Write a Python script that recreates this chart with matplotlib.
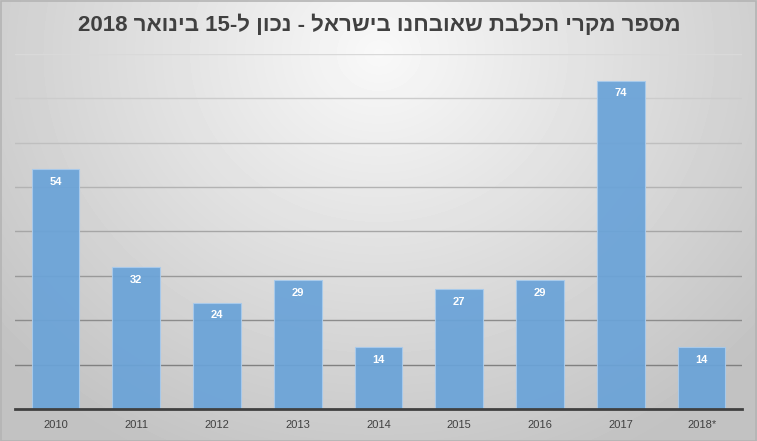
import re
import numpy as np
import matplotlib
matplotlib.use("Agg")
import matplotlib.pyplot as plt

years = ["2010", "2011", "2012", "2013", "2014", "2015", "2016", "2017", "2018*"]
cases = [54, 32, 24, 29, 14, 27, 29, 74, 14]
title = "מספר מקרי הכלבת שאובחנו בישראל - נכון ל-15 בינואר 2018"


def visual(s):
    # matplotlib has no bidi: reverse chars, then put digit runs back in order
    r = s[::-1]
    return re.sub(r"\d+", lambda m: m.group()[::-1], r)


plt.rcParams["font.family"] = ["Liberation Sans", "DejaVu Sans"]

W, H = 757, 441
fig = plt.figure(figsize=(W / 100, H / 100), dpi=100)

# radial gradient background
bg = fig.add_axes([0, 0, 1, 1], zorder=-10)
yy, xx = np.mgrid[0:H, 0:W]
d = np.sqrt(((xx - W * 0.5) / (W * 0.62)) ** 2 + ((yy - H * 0.12) / (H * 0.95)) ** 2)
g = np.clip(0.975 - 0.2 * d, 0.76, 1.0)
bg.imshow(g, cmap="gray", vmin=0, vmax=1, aspect="auto", interpolation="bilinear")
bg.set_axis_off()
# outer frame
fig.patches.append(plt.Rectangle((0.001, 0.001), 0.998, 0.997, transform=fig.transFigure,
                                 fill=False, edgecolor="#b4b4b4", linewidth=1.2))

ax = fig.add_axes([15 / W, 1 - 409 / H, 727 / W, (409 - 54) / H])
ax.patch.set_alpha(0)
x = np.arange(len(years))

for v in range(10, 81, 10):
    shade = 0.50 + (v - 10) / 70 * 0.35
    ax.axhline(v, color=str(shade), linewidth=1, zorder=1)

bars = ax.bar(x, cases, width=0.59, color="#6aa3d8", alpha=0.93,
              edgecolor="#a9cbec", linewidth=0.8, zorder=2)
for xi, v in zip(x, cases):
    ax.text(xi, v - 2.9, str(v), ha="center", va="center", color="white",
            fontsize=8, fontweight="bold", zorder=3)

ax.set_xlim(-0.5, len(years) - 0.5)
ax.set_ylim(0, 80)
ax.set_xticks(x)
ax.set_xticklabels(years, fontsize=8, color="#404040")
ax.tick_params(axis="x", length=0, pad=8)
ax.set_yticks([])
for s in ["top", "right", "left"]:
    ax.spines[s].set_visible(False)
ax.spines["bottom"].set_color("#404040")
ax.spines["bottom"].set_linewidth(2)
ax.spines["bottom"].set_zorder(4)

fig.text(379 / W, 1 - 25 / H, visual(title), ha="center", va="center",
         fontsize=16, fontweight="bold", color="#404040")

fig.savefig("out.png", dpi=100)
